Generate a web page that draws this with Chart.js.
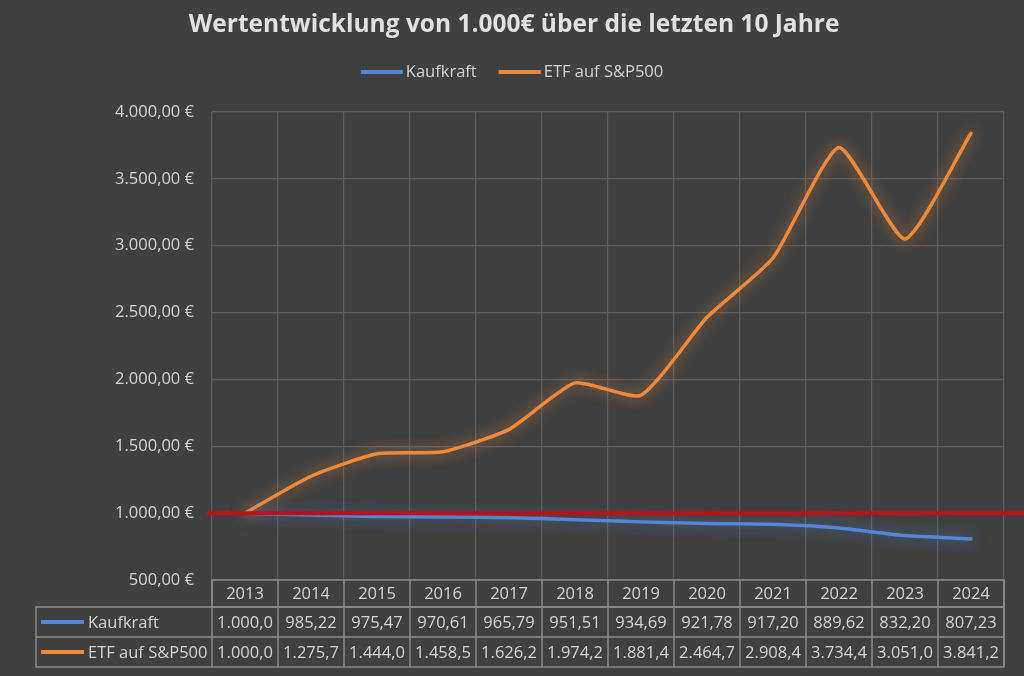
<!DOCTYPE html>
<html>
<head>
<meta charset="utf-8">
<script src="https://cdn.jsdelivr.net/npm/chart.js@4.4.0/dist/chart.umd.min.js"></script>
<style>
  html, body { margin: 0; padding: 0; background: #404040; }
  #wrap { width: 1024px; height: 676px; position: relative; }
</style>
</head>
<body>
<div id="wrap"><canvas id="c" width="1024" height="676"></canvas></div>
<script>
const chartTitle = 'Wertentwicklung von 1.000€ über die letzten 10 Jahre';
const years = ['2013','2014','2015','2016','2017','2018','2019','2020','2021','2022','2023','2024'];
const seriesNames = ['Kaufkraft', 'ETF auf S&P500'];
const kaufkraft = [1000.0, 985.22, 975.47, 970.61, 965.79, 951.51, 934.69, 921.78, 917.20, 889.62, 832.20, 807.23];
const etf = [1000.0, 1275.7, 1444.0, 1458.5, 1626.2, 1974.2, 1881.4, 2464.7, 2908.4, 3734.4, 3051.0, 3841.2];
const baseline = 1000;
const yMin = 500, yMax = 4000, yStep = 500;

const BG = '#404040';
const TEXT = '#d4d4d4';
const GRID = '#5c5c5c';
const TABLE_LINE = '#8a8a8a';
const BLUE = '#5585d6';
const ORANGE = '#ef8a3c';
const RED = '#b8121b';
const FONT = '"Open Sans", sans-serif';

function fmtEuro(v) {
  return v.toLocaleString('de-DE', {minimumFractionDigits: 2, maximumFractionDigits: 2}) + ' €';
}
function fmtCell(v) {
  // Excel-style truncation in narrow cells
  return v.toLocaleString('de-DE', {minimumFractionDigits: 2, maximumFractionDigits: 2}).slice(0, 7);
}

const bgPlugin = {
  id: 'bg',
  beforeDraw(chart) {
    const ctx = chart.ctx;
    ctx.save();
    ctx.fillStyle = BG;
    ctx.fillRect(0, 0, chart.width, chart.height);
    ctx.restore();
  }
};

const glowPlugin = {
  id: 'glow',
  beforeDatasetDraw(chart, args) {
    const ds = chart.data.datasets[args.index];
    chart.ctx.save();
    chart.ctx.shadowColor = ds.glowColor;
    chart.ctx.shadowBlur = 14;
  },
  afterDatasetDraw(chart) {
    chart.ctx.restore();
  }
};

const decorPlugin = {
  id: 'decor',
  afterDatasetsDraw(chart) {
    const ctx = chart.ctx;
    const y = chart.scales.y.getPixelForValue(baseline);
    ctx.save();
    ctx.strokeStyle = RED;
    ctx.lineWidth = 4;
    ctx.beginPath();
    ctx.moveTo(chart.chartArea.left - 5, y);
    ctx.lineTo(chart.width, y);
    ctx.stroke();
    ctx.restore();
  },
  afterDraw(chart) {
    const ctx = chart.ctx;
    const xs = chart.scales.x;
    const area = chart.chartArea;
    ctx.save();
    // Title
    ctx.fillStyle = '#e2e2e2';
    ctx.font = 'bold 24.5px ' + FONT;
    ctx.textAlign = 'center';
    ctx.textBaseline = 'alphabetic';
    ctx.fillText(chartTitle, chart.width / 2 + 2, 32);

    // Legend
    ctx.font = '16.5px ' + FONT;
    const sw = 42, gapT = 3, gapItem = 22;
    const colors = [BLUE, ORANGE];
    let total = 0;
    const widths = seriesNames.map(n => ctx.measureText(n).width);
    widths.forEach((w, i) => { total += sw + gapT + w + (i ? gapItem : 0); });
    let lx = chart.width / 2 - total / 2;
    const ly = 72;
    ctx.textAlign = 'left';
    ctx.textBaseline = 'middle';
    seriesNames.forEach((n, i) => {
      ctx.strokeStyle = colors[i];
      ctx.lineWidth = 4;
      ctx.beginPath();
      ctx.moveTo(lx, ly); ctx.lineTo(lx + sw, ly); ctx.stroke();
      ctx.fillStyle = TEXT;
      ctx.fillText(n, lx + sw + gapT, ly);
      lx += sw + gapT + widths[i] + gapItem;
    });

    // Data table
    const colW = (area.right - area.left) / years.length;
    const top = area.bottom;
    const hHead = 27, hRow = 30;
    const tableLeft = 36;
    ctx.strokeStyle = TABLE_LINE;
    ctx.lineWidth = 1.5;
    ctx.strokeRect(area.left, top, area.right - area.left, hHead);
    ctx.strokeRect(tableLeft, top + hHead, area.right - tableLeft, hRow * 2);
    ctx.beginPath();
    ctx.moveTo(tableLeft, top + hHead + hRow);
    ctx.lineTo(area.right, top + hHead + hRow);
    for (let i = 0; i <= years.length; i++) {
      const x = area.left + i * colW;
      ctx.moveTo(x, top);
      ctx.lineTo(x, top + hHead + hRow * 2);
    }
    ctx.stroke();

    ctx.fillStyle = TEXT;
    ctx.font = '16.5px ' + FONT;
    ctx.textAlign = 'center';
    ctx.textBaseline = 'middle';
    const rows = [kaufkraft, etf];
    years.forEach((yr, i) => {
      const cx = xs.getPixelForValue(i);
      ctx.fillText(yr, cx, top + hHead / 2 + 1);
      rows.forEach((r, j) => {
        ctx.fillText(fmtCell(r[i]), cx, top + hHead + hRow * j + hRow / 2 + 1);
      });
    });
    ctx.textAlign = 'left';
    ctx.font = '16.5px ' + FONT;
    seriesNames.forEach((n, j) => {
      const cy = top + hHead + hRow * j + hRow / 2;
      ctx.strokeStyle = colors[j];
      ctx.lineWidth = 4;
      ctx.beginPath();
      ctx.moveTo(41, cy); ctx.lineTo(84, cy); ctx.stroke();
      ctx.fillStyle = TEXT;
      ctx.fillText(n, 88, cy + 1);
    });
    ctx.restore();
  }
};

new Chart(document.getElementById('c'), {
  type: 'line',
  data: {
    labels: years,
    datasets: [
      { label: seriesNames[0], data: kaufkraft, borderColor: BLUE, glowColor: 'rgba(85,133,214,0.75)',
        borderWidth: 3.5, pointRadius: 0, tension: 0.18, borderCapStyle: 'round', fill: false },
      { label: seriesNames[1], data: etf, borderColor: ORANGE, glowColor: 'rgba(239,138,60,0.75)',
        borderWidth: 3.5, pointRadius: 0, tension: 0.18, borderCapStyle: 'round', fill: false }
    ]
  },
  options: {
    responsive: false,
    animation: false,
    devicePixelRatio: 1,
    layout: { padding: { top: 112, left: 0, right: 20, bottom: 96 } },
    plugins: { legend: { display: false }, title: { display: false }, tooltip: { enabled: false } },
    scales: {
      x: {
        offset: true,
        grid: { offset: true, color: GRID, lineWidth: 1.2, drawTicks: false },
        border: { display: false },
        ticks: { display: false },
        afterFit(s) { s.height = 0; }
      },
      y: {
        min: yMin, max: yMax,
        grid: { color: GRID, lineWidth: 1.2, drawTicks: false },
        border: { display: false },
        ticks: { stepSize: yStep, color: TEXT, padding: 18, font: { family: FONT, size: 16.5 },
                 callback: v => fmtEuro(v) },
        afterFit(s) { s.width = 212; }
      }
    }
  },
  plugins: [bgPlugin, glowPlugin, decorPlugin]
});
</script>
</body>
</html>
